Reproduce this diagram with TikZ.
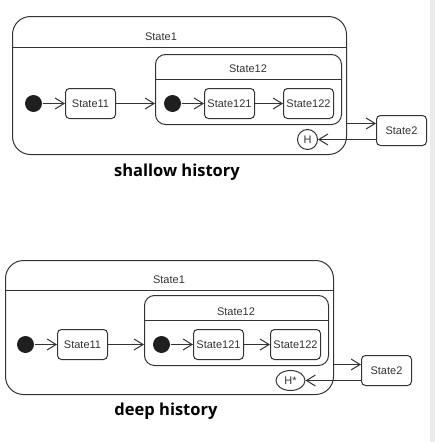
\documentclass[tikz,border=0pt]{standalone}
\usepackage{fontspec}
\setmainfont{Liberation Sans}
\newfontfamily\capfont{Open Sans}
\usetikzlibrary{arrows.meta,shapes.geometric,calc}

\begin{document}
\begin{tikzpicture}[x=1pt,y=1pt,
            line width=1pt, color=black!80,
            every node/.style={font=\fontsize{11}{13}\selectfont},
            state/.style={draw,rounded corners=4pt,minimum width=50pt,
                minimum height=30pt,inner sep=0pt},
            comp/.style={draw,rounded corners=18pt,inner sep=0pt},
            sub/.style={draw,rounded corners=10pt,inner sep=0pt},
            init/.style={circle,fill=black!88,minimum size=17pt,inner sep=0pt},
            hist/.style={draw,circle,minimum size=20pt,inner sep=0pt},
            deephist/.style={draw,ellipse,minimum width=29pt,minimum height=20pt,
                inner sep=0pt},
            trans/.style={-{Straight Barb[length=9pt,width=11pt]}},
            caption/.style={font=\capfont\bfseries\fontsize{16.5}{20}\selectfont,
                text=black}]
            \useasboundingbox (0,0) rectangle (435,-442);
            \fill[black!8] (430,0) rectangle (435,-442);

            % shallow history
            \node[comp,minimum width=334pt,minimum height=138pt] (a1) at (179.5,-85.5) {};
            \node (a1t) at (161,-37) {State1};
            \draw (12.5,-47.5) -- (346.5,-47.5);
            \node[sub,minimum width=186pt,minimum height=70pt] (a12) at (248.5,-89.5) {};
            \node (a12t) at (248,-69) {State12};
            \draw (155.5,-79.5) -- (341.5,-79.5);
            \node[init] (ai1) at (33.5,-103.5) {};
            \node[state] (a11) at (90.5,-103.5) {State11};
            \node[init] (ai2) at (172.5,-103.5) {};
            \node[state] (a121) at (229.5,-103.5) {State121};
            \node[state] (a122) at (308.5,-103.5) {State122};
            \node[state] (a2) at (401.5,-130.5) {State2};
            \node[hist] (ah) at (307.5,-139.5) {H};
            \node[caption] (acap) at (177,-172) {shallow history};

            \draw[trans] (ai1) -- (a11);
            \draw[trans] (a11.east) -- (a11.east -| a12.west);
            \draw[trans] (ai2) -- (a121);
            \draw[trans] (a121) -- (a122);
            \draw[trans] ($(a1.east |- a2.west)+(0,7)$) -- ($(a2.west)+(0,7)$);
            \draw[trans] ($(a2.west)+(0,-9)$) -- (ah);

            % deep history
            \node[comp,minimum width=328pt,minimum height=134pt] (b1) at (169.5,-327.5) {};
            \node (b1t) at (169,-280) {State1};
            \draw (5.5,-290.5) -- (333.5,-290.5);
            \node[sub,minimum width=184pt,minimum height=70pt] (b12) at (236.5,-330.5) {};
            \node (b12t) at (236,-312) {State12};
            \draw (144.5,-320.5) -- (328.5,-320.5);
            \node[init] (bi1) at (25.5,-344.5) {};
            \node[state] (b11) at (82.5,-344.5) {State11};
            \node[init] (bi2) at (161.5,-344.5) {};
            \node[state] (b121) at (218.5,-344.5) {State121};
            \node[state] (b122) at (295.5,-344.5) {State122};
            \node[state] (b2) at (386.5,-370.5) {State2};
            \node[deephist] (bh) at (290.5,-380.5) {H*};
            \node[caption] (bcap) at (166,-411) {deep history};

            \draw[trans] (bi1) -- (b11);
            \draw[trans] (b11.east) -- (b11.east -| b12.west);
            \draw[trans] (bi2) -- (b121);
            \draw[trans] (b121) -- (b122);
            \draw[trans] ($(b1.east |- b2.west)+(0,6)$) -- ($(b2.west)+(0,6)$);
            \draw[trans] ($(b2.west)+(0,-10)$) -- (bh);

        \end{tikzpicture}
\end{document}
